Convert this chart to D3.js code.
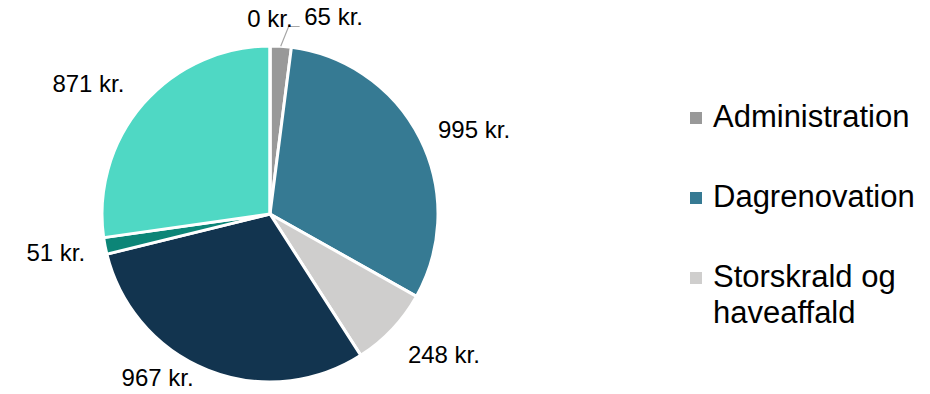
<!DOCTYPE html>
<html>
<head>
<meta charset="utf-8">
<script src="https://cdn.jsdelivr.net/npm/d3@7"></script>
<style>
  html, body { margin: 0; padding: 0; background: #fff; }
  svg { display: block; font-family: "Liberation Sans", Arial, sans-serif; }
</style>
</head>
<body>
<svg id="chart" width="930" height="394"></svg>
<script>
// Cost per household, split by area (kr.)
const sliceValues = [65, 995, 248, 967, 51, 871, 0];
const sliceColors = ["#999999", "#367a93", "#cfcecd", "#12344f", "#0c8577", "#4fd8c4", "#7f7f7f"];
const legendLabels = [["Administration"], ["Dagrenovation"], ["Storskrald og", "haveaffald"]];
const valueLabels = sliceValues.map(v => v + " kr.");

const svg = d3.select("#chart");
const cx = 270, cy = 214, radius = 168;

const pie = d3.pie().value(d => d).sort(null);
const arcs = pie(sliceValues);
const arc = d3.arc().innerRadius(0).outerRadius(radius);

const g = svg.append("g").attr("transform", `translate(${cx},${cy})`);

g.selectAll("path.slice")
  .data(arcs)
  .join("path")
  .attr("class", "slice")
  .attr("d", arc)
  .attr("fill", (d, i) => sliceColors[i])
  .attr("stroke", "#fff")
  .attr("stroke-width", 3)
  .attr("stroke-linejoin", "miter");

// Data labels placed just outside the outer edge
const labelFont = 24;
const gap = 19;
const boxH = 18;
const charW = { "0":0.556,"1":0.556,"2":0.556,"3":0.556,"4":0.556,"5":0.556,"6":0.556,"7":0.556,"8":0.556,"9":0.556," ":0.278,"k":0.5,"r":0.333,".":0.278 };
const textWidth = s => [...s].reduce((a, c) => a + (charW[c] || 0.556), 0) * labelFont;

// hand-tuned shifts applied on top of the default outside-end placement
const labelShift = {
  0: { x: 51, y: 0, leader: true },
  1: { x: 4, y: 16 },
  2: { x: 14, y: -10 },
  3: { x: -35, y: -31 },
  4: { x: 0, y: -3 },
  5: { x: -15, y: 14 }
};

arcs.forEach((d, i) => {
  const a = (d.startAngle + d.endAngle) / 2;
  const sx = Math.sin(a), sy = -Math.cos(a);
  const w = textWidth(valueLabels[i]);
  const dist = radius + gap + (w / 2) * Math.abs(sx) + (boxH / 2) * Math.abs(sy);
  let x = dist * sx, y = dist * sy;
  const s = labelShift[i];
  if (s) { x += s.x; y += s.y; }
  g.append("text")
    .attr("x", x)
    .attr("y", y)
    .attr("text-anchor", "middle")
    .attr("dy", "0.36em")
    .attr("font-size", labelFont)
    .attr("fill", "#000")
    .text(valueLabels[i]);
  if (s && s.leader) {
    const p0 = [radius * sx, radius * sy];
    const left = x - w / 2;
    const ly = y + boxH / 2 + 1;
    g.append("polyline")
      .attr("points", `${p0[0]},${p0[1]} ${left - 15},${ly} ${left - 4},${ly}`)
      .attr("fill", "none")
      .attr("stroke", "#a6a6a6")
      .attr("stroke-width", 1.2);
  }
});

// Legend
const legendY = d3.scaleOrdinal().domain([0, 1, 2]).range([127, 207, 287]);
const legend = svg.append("g");
legendLabels.forEach((lines, i) => {
  const by = legendY(i);
  legend.append("rect")
    .attr("x", 690).attr("y", by - 15)
    .attr("width", 12).attr("height", 12)
    .attr("fill", sliceColors[i]);
  const t = legend.append("text")
    .attr("x", 713).attr("y", by)
    .attr("font-size", 31)
    .attr("fill", "#000");
  lines.forEach((ln, j) => {
    t.append("tspan").attr("x", 713).attr("dy", j === 0 ? 0 : 36).text(ln);
  });
});
</script>
</body>
</html>
